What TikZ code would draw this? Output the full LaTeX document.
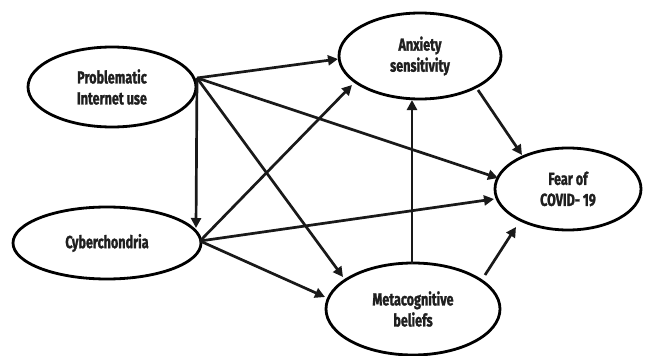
\documentclass[tikz,border=0pt]{standalone}
\usepackage{fontspec}
\setmainfont{Fira Sans}[FakeStretch=0.72,FakeBold=1.3]
\usetikzlibrary{arrows.meta,shapes.geometric}
\begin{document}
\begin{tikzpicture}[x=1pt,y=-1pt,
  var/.style={draw,ellipse,line width=2.8pt,inner sep=0pt,align=center,
    font=\fontsize{17.5}{21}\selectfont\bfseries,text=black!88},
  conn/.style={line width=2.7pt,-{Triangle[length=10pt,width=10pt]},black!90}]
\useasboundingbox (0,0) rectangle (649,356);
\node[var,minimum width=168pt,minimum height=80pt] (piu) at (112,87) {Problematic\\Internet use};
\node[var,minimum width=162pt,minimum height=86pt] (as) at (420,56) {Anxiety\\sensitivity};
\node[var,minimum width=146pt,minimum height=82pt] (fear) at (568,189) {Fear of\\COVID- 19};
\node[var,minimum width=188pt,minimum height=72pt] (cyb) at (107,243) {Cyberchondria};
\node[var,minimum width=174pt,minimum height=92pt] (meta) at (413,309) {Metacognitive\\beliefs};
\coordinate (piuS) at (197,78);
\coordinate (cybS) at (200,241);
\coordinate (asT1) at (338,59);
\coordinate (asT2) at (352,85);
\coordinate (asT3) at (412,100);
\coordinate (asS) at (478,90);
\coordinate (fearT1) at (498,178);
\coordinate (fearT2) at (494,199);
\coordinate (fearT3) at (522,155);
\coordinate (fearT4) at (516,227);
\coordinate (metaT1) at (343,277);
\coordinate (metaT2) at (325,297);
\coordinate (metaS1) at (412,264);
\coordinate (metaS2) at (485,275);
\coordinate (cybT) at (196,228);
\draw[conn] (piuS) -- (asT1);
\draw[conn] (piuS) -- (cybT);
\draw[conn] (piuS) -- (fearT1);
\draw[conn] (piuS) -- (metaT1);
\draw[conn] (cybS) -- (asT2);
\draw[conn] (cybS) -- (fearT2);
\draw[conn] (cybS) -- (metaT2);
\draw[conn] (metaS1) -- (asT3);
\draw[conn] (asS) -- (fearT3);
\draw[conn] (metaS2) -- (fearT4);
\end{tikzpicture}
\end{document}
